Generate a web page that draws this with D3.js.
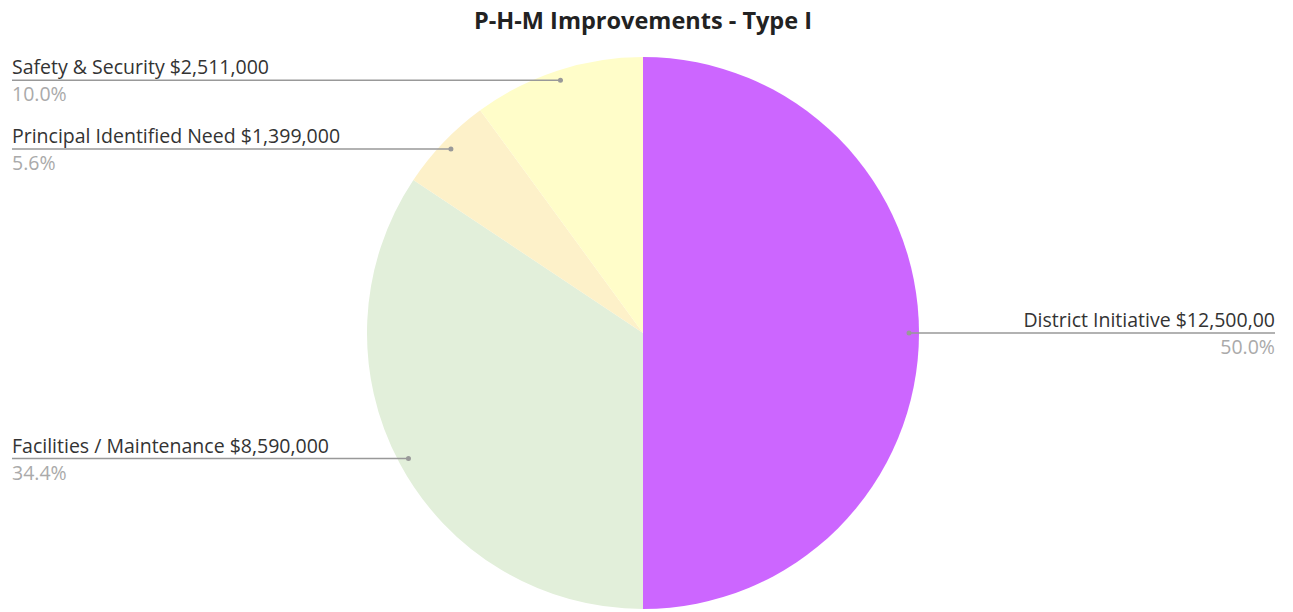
<!DOCTYPE html>
<html lang="en">
<head>
    <meta charset="UTF-8">
    <title>P-H-M Improvements - Type I</title>
    <script src="https://d3js.org/d3.v7.min.js"></script>
    <style>
        body { margin: 0; background: #fff; }
        text { font-family: "Open Sans", "Noto Sans", sans-serif; }
    </style>
</head>
<body>
    <script>
        let categories = ['District Initiative', 'Facilities / Maintenance', 'Principal Identified Need', 'Safety & Security'];
        let amounts = [12500000, 8590000, 1399000, 2511000];
        let amountLabels = ['$12,500,00', '$8,590,000', '$1,399,000', '$2,511,000'];
        let colors = ['#cc66ff', '#e2efda', '#fdf1c9', '#fffdc9'];

        let width = 1293;
        let height = 612;
        let cx = 643, cy = 333, radius = 276;

        let data = categories.map((c, i) => ({name: c, value: amounts[i], label: amountLabels[i], color: colors[i]}));
        let total = d3.sum(amounts);

        let svg = d3.select('body').append('svg')
            .attr('width', width)
            .attr('height', height);

        svg.append('text')
            .attr('x', 643)
            .attr('y', 29)
            .attr('text-anchor', 'middle')
            .style('font-size', '23.5px')
            .style('font-weight', 'bold')
            .style('fill', '#222')
            .text('P-H-M Improvements - Type I');

        let pie = d3.pie().sort(null).value(d => d.value);
        let arc = d3.arc().innerRadius(0).outerRadius(radius);
        let dotArc = d3.arc().innerRadius(266).outerRadius(266);

        let g = svg.append('g').attr('transform', `translate(${cx},${cy})`);
        let arcs = pie(data);

        g.selectAll('path').data(arcs).enter().append('path')
            .attr('d', arc)
            .style('fill', d => d.data.color);

        let labels = g.selectAll('g.lbl').data(arcs).enter().append('g').attr('class', 'lbl');

        labels.each(function(d) {
            let p = dotArc.centroid(d);
            let right = p[0] > 0;
            let endX = right ? 1275 - cx : 12 - cx;
            let sel = d3.select(this);
            sel.append('line')
                .attr('x1', p[0]).attr('y1', p[1])
                .attr('x2', endX).attr('y2', p[1])
                .style('stroke', '#999')
                .style('stroke-width', 1.5);
            sel.append('circle')
                .attr('cx', p[0]).attr('cy', p[1]).attr('r', 2.5)
                .style('fill', '#999');
            sel.append('text')
                .attr('x', endX).attr('y', p[1] - 6)
                .attr('text-anchor', right ? 'end' : 'start')
                .style('font-size', '19.5px')
                .style('fill', '#333')
                .text(d.data.name + ' ' + d.data.label);
            sel.append('text')
                .attr('x', endX).attr('y', p[1] + 21)
                .attr('text-anchor', right ? 'end' : 'start')
                .style('font-size', '19.5px')
                .style('fill', '#aaa')
                .text(d3.format('.1%')(d.data.value / total));
        });
    </script>
</body>
</html>
